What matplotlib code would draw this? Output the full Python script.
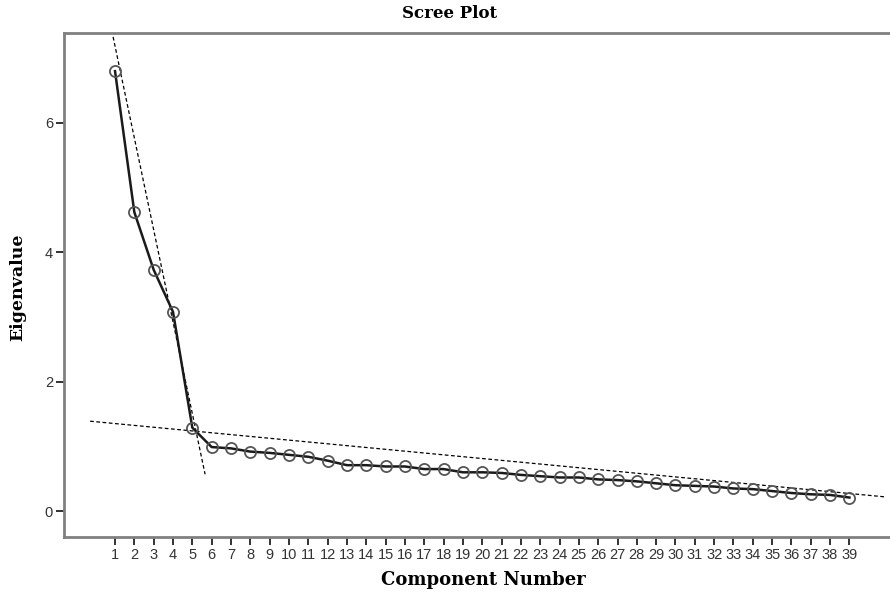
import matplotlib
matplotlib.use("Agg")
import matplotlib.pyplot as plt
import numpy as np

components = list(range(1, 40))
eigenvalues = [6.80, 4.62, 3.73, 3.08, 1.29, 0.99, 0.97, 0.92, 0.90, 0.87,
               0.84, 0.78, 0.71, 0.71, 0.69, 0.69, 0.65, 0.65, 0.60, 0.60,
               0.59, 0.56, 0.54, 0.52, 0.52, 0.49, 0.48, 0.46, 0.43, 0.40,
               0.39, 0.38, 0.35, 0.34, 0.31, 0.28, 0.26, 0.25, 0.21]
y_ticks = [0, 2, 4, 6]

# guide lines (reference lines drawn on the scree plot)
steep_x = [0.9, 5.66]
steep_y = [7.33, 0.57]
flat_x = [-0.29, 40.85]
flat_y = [1.39, 0.22]

fig = plt.figure(figsize=(8.9, 5.92), dpi=100)
ax = fig.add_axes([64/890, 1-537/592, 1-64/890, (537-33)/592])

ax.plot(steep_x, steep_y, color='black', lw=0.9, ls=(0, (3, 2)))
ax.plot(flat_x, flat_y, color='black', lw=0.9, ls=(0, (3, 2)))
ax.plot(components, eigenvalues, color='#1a1a1a', lw=1.8, marker='o',
        markersize=8, markerfacecolor='none', markeredgecolor='#555555',
        markeredgewidth=1.3)

ax.set_xlim(-1.64, 41.1)
ax.set_ylim(-0.4, 7.39)
ax.set_xticks(components)
ax.set_xticklabels([str(c) for c in components])
ax.set_yticks(y_ticks)
ax.set_yticklabels([str(v) for v in y_ticks])

for s in ['left', 'bottom', 'top']:
    ax.spines[s].set_color('#808080')
    ax.spines[s].set_linewidth(2)
ax.spines['right'].set_visible(False)
ax.tick_params(axis='both', direction='out', length=6, width=1.3, color='#222222',
               labelsize=10.5, labelcolor='#333333', pad=2)
for lbl in ax.get_xticklabels() + ax.get_yticklabels():
    lbl.set_family('Liberation Sans')

fig.text(0.505, 1-14/592, 'Scree Plot', ha='center', va='center',
         family='DejaVu Serif', weight='bold', fontsize=12)
fig.text(483/890, 1-580/592, 'Component Number', ha='center', va='center',
         family='DejaVu Serif', weight='bold', fontsize=13)
fig.text(18/890, 1-287/592, 'Eigenvalue', ha='center', va='center', rotation=90,
         family='DejaVu Serif', weight='bold', fontsize=12.5)

fig.savefig('out.png', dpi=100)
